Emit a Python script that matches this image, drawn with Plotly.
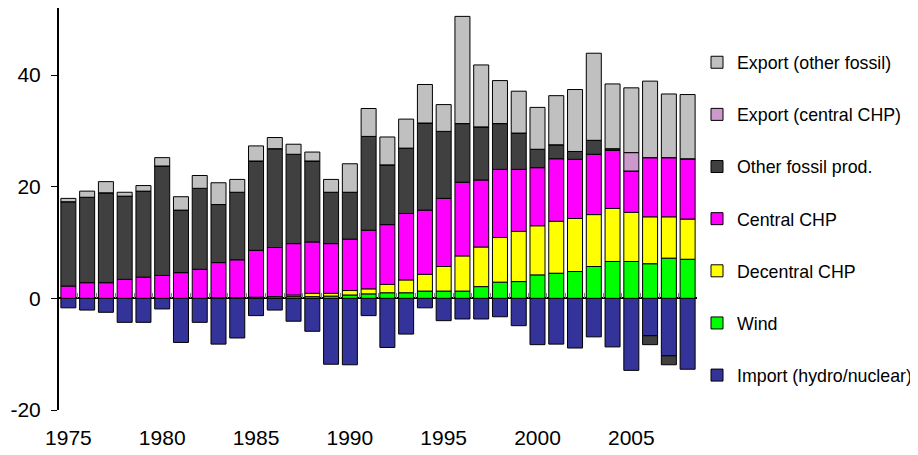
import plotly.graph_objects as go

years = list(range(1975, 2009))

import_hydro_nuclear = [-1.7, -2.1, -2.5, -4.3, -4.3, -1.9, -7.9, -4.3, -8.2, -7.1,
                        -3.1, -2.1, -4.1, -5.9, -11.8, -11.9, -3.1, -8.8, -6.4, -1.7,
                        -4.0, -3.7, -3.7, -3.3, -4.9, -8.3, -8.2, -8.9, -6.9, -8.7,
                        -12.9, -6.7, -10.3, -12.7]
wind = [0, 0, 0, 0, 0, 0, 0, 0, 0.1, 0.1,
        0.2, 0.3, 0.3, 0.3, 0.4, 0.6, 0.8, 1.0, 1.0, 1.3,
        1.3, 1.3, 2.1, 2.9, 3.0, 4.2, 4.5, 4.8, 5.7, 6.6,
        6.6, 6.2, 7.2, 7.0]
decentral_chp = [0, 0, 0, 0, 0, 0, 0, 0, 0, 0,
                 0, 0, 0.3, 0.6, 0.5, 0.8, 0.9, 1.5, 2.3, 3.0,
                 4.4, 6.3, 7.1, 8.0, 9.0, 8.8, 9.3, 9.5, 9.3, 9.5,
                 8.8, 8.4, 7.4, 7.2]
central_chp = [2.2, 2.8, 2.8, 3.4, 3.8, 4.1, 4.6, 5.2, 6.3, 6.8,
               8.4, 8.8, 9.2, 9.2, 8.9, 9.2, 10.5, 10.7, 11.9, 11.5,
               12.2, 13.2, 12.0, 12.2, 11.1, 10.4, 11.2, 10.6, 10.8, 10.4,
               7.4, 10.6, 10.6, 10.8]
other_fossil = [15.1, 15.3, 16.1, 14.9, 15.4, 19.6, 11.2, 14.5, 10.4, 12.1,
                16.0, 17.7, 16.0, 14.5, 9.2, 8.4, 16.8, 10.7, 11.7, 15.6,
                12.0, 10.5, 9.5, 8.2, 6.5, 3.3, 2.5, 1.4, 2.5, 0.3,
                0, -1.6, -1.6, 0]
export_central_chp = [0] * 30 + [3.3, 0, 0, 0]
export_other_fossil = [0.6, 1.1, 2.0, 0.7, 1.0, 1.5, 2.4, 2.3, 3.9, 2.3,
                       2.7, 2.0, 1.8, 1.6, 2.3, 5.1, 5.0, 5.0, 5.2, 6.9,
                       4.8, 19.2, 11.1, 7.7, 7.5, 7.5, 8.8, 11.1, 15.6, 11.6,
                       11.6, 13.7, 11.4, 11.5]

y_tickvals = [-20, 0, 20, 40]
y_ticktext = ["-20", "0", "20", "40"]
x_tickvals = [1975, 1980, 1985, 1990, 1995, 2000, 2005]

series = [
    ("Import (hydro/nuclear)", import_hydro_nuclear, "#333399"),
    ("Wind", wind, "#00FF00"),
    ("Decentral CHP", decentral_chp, "#FFFF00"),
    ("Central CHP", central_chp, "#FF00FF"),
    ("Other fossil prod.", other_fossil, "#404040"),
    ("Export (central CHP)", export_central_chp, "#CC99CC"),
    ("Export (other fossil)", export_other_fossil, "#C0C0C0"),
]

FONT = "Liberation Sans, Arial, sans-serif"

fig = go.Figure()
n = len(series)
for i, (name, vals, color) in enumerate(series):
    fig.add_trace(go.Bar(
        x=years, y=vals, name=name, legendgroup=f"g{i}", legendrank=n - i,
        marker=dict(color=color, line=dict(color="black", width=1)),
    ))

ymin, ymax = -20, 52
fig.update_layout(
    width=910, height=447,
    margin=dict(l=51, r=221, t=0, b=45, autoexpand=False),
    barmode="relative", bargap=0.2,
    plot_bgcolor="white", paper_bgcolor="white",
    font=dict(family=FONT, size=18, color="black"),
    showlegend=True,
    legend=dict(
        traceorder="grouped", tracegroupgap=26,
        x=1.0, xanchor="left", y=0.91, yanchor="top",
        font=dict(family=FONT, size=17.8, color="black"),
        bgcolor="rgba(0,0,0,0)", borderwidth=0,
    ),
    xaxis=dict(
        range=[1974.5, 2008.5], tickmode="array", tickvals=x_tickvals,
        ticks="", showline=False, showgrid=False, zeroline=False,
        ticklabelstandoff=13, automargin=False,
        tickfont=dict(family=FONT, size=21, color="black"),
    ),
    xaxis2=dict(
        range=[1974.5, 2008.5], overlaying="x", anchor="free",
        position=(0 - ymin) / (ymax - ymin), side="bottom",
        tickmode="array", tickvals=[y + 0.5 for y in years[:-1]],
        ticks="inside", ticklen=5, tickcolor="#808080", tickwidth=1,
        showticklabels=False, showline=False, showgrid=False, zeroline=False,
        automargin=False,
    ),
    yaxis=dict(
        range=[ymin, ymax], tickmode="array", tickvals=y_tickvals, ticktext=y_ticktext,
        ticks="outside", ticklen=6, tickcolor="black", tickwidth=1,
        showline=True, linecolor="black", linewidth=2,
        showgrid=False, zeroline=True, zerolinecolor="black", zerolinewidth=2,
        layer="above traces", ticklabelstandoff=6, automargin=False,
        tickfont=dict(family=FONT, size=21, color="black"),
    ),
)
fig.add_trace(go.Scatter(x=[years[0]], y=[0], xaxis="x2", mode="markers",
                         marker=dict(opacity=0), showlegend=False, hoverinfo="skip"))

fig.write_html("out.html")
